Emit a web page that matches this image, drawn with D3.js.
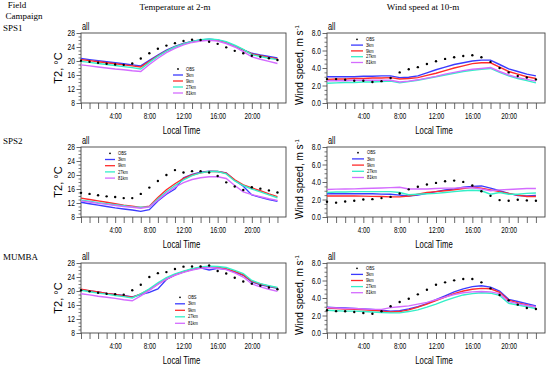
<!DOCTYPE html>
<html>
<head>
<meta charset="utf-8">
<script src="https://cdn.jsdelivr.net/npm/d3@7"></script>
<style>
  body { margin: 0; background: #fff; }
  svg { display: block; }
</style>
</head>
<body>
<svg id="chart" width="550" height="367"></svg>
<script>
// hours of the day (local time)
const hours = [0,1,2,3,4,5,6,7,8,9,10,11,12,13,14,15,16,17,18,19,20,21,22,23];
const timeTicks = [4,8,12,16,20];
const timeLabels = ["4:00","8:00","12:00","16:00","20:00"];
const t2Ticks = [8,12,16,20,24,28];
const windTicks = [0,2,4,6,8];
const campaigns = ["SPS1","SPS2","MUMBA"];
const legendNames = ["OBS","3km","9km","27km","81km"];
const modelColors = ["#3b3bff","#ff2b2b","#33efc8","#d46cff"];

// SPS1
const sps1T2Obs  = [20.1,19.8,19.5,19.2,19.0,18.9,19.3,20.7,22.2,23.5,24.4,25.1,25.7,26.1,26.0,25.5,24.9,23.9,22.9,22.2,21.5,21.2,20.8,20.3];
const sps1T2_3km = [20.7,20.4,20.1,19.8,19.5,19.2,18.9,18.6,20.2,21.7,23.1,24.2,25.0,25.6,26.0,26.2,26.0,25.3,24.3,23.2,22.2,21.7,21.3,20.9];
const sps1T2_9km = [20.4,20.1,19.8,19.5,19.2,18.9,18.6,18.3,19.9,21.5,22.9,24.0,24.9,25.5,25.9,26.1,25.9,25.3,24.3,23.2,22.0,21.5,21.0,20.6];
const sps1T2_27km = [19.9,19.6,19.3,19.0,18.7,18.4,18.1,17.7,19.6,21.3,22.8,24.0,24.9,25.6,26.1,26.3,26.1,25.5,24.5,23.3,21.8,21.3,20.8,20.4];
const sps1T2_81km = [18.9,18.6,18.3,18.0,17.7,17.5,17.2,17.0,19.0,20.8,22.4,23.6,24.6,25.3,25.7,25.9,25.7,25.0,24.0,22.7,21.2,20.5,19.9,19.3];

const sps1WsObs  = [2.73,2.73,2.65,2.54,2.54,2.4,2.5,2.85,3.5,3.85,4.1,4.45,4.77,5.04,5.23,5.38,5.46,5.23,4.7,4.0,3.5,3.08,2.92,2.7];
const sps1Ws_3km = [3.0,3.0,3.0,3.0,3.05,3.05,3.1,3.1,2.9,2.95,3.1,3.45,3.8,4.1,4.4,4.6,4.8,4.9,4.9,4.4,3.9,3.6,3.3,3.1];
const sps1Ws_9km = [2.7,2.75,2.75,2.8,2.8,2.85,2.85,2.9,2.75,2.8,2.9,3.15,3.4,3.7,4.0,4.25,4.5,4.6,4.6,4.1,3.6,3.3,3.0,2.8];
const sps1Ws_27km = [2.25,2.3,2.35,2.35,2.4,2.4,2.45,2.5,2.3,2.45,2.6,2.8,3.0,3.2,3.4,3.6,3.75,3.85,3.95,3.5,3.1,2.8,2.55,2.3];
const sps1Ws_81km = [2.55,2.55,2.55,2.6,2.6,2.6,2.6,2.6,2.4,2.5,2.65,2.85,3.05,3.3,3.5,3.7,3.85,3.95,4.05,3.6,3.2,2.9,2.7,2.5];

// SPS2
const sps2T2Obs  = [14.9,14.6,14.2,13.9,13.7,13.4,13.4,14.6,16.4,18.3,20.0,21.4,20.7,21.1,21.1,20.7,19.7,17.9,16.7,15.7,16.5,16.1,15.6,15.0];
const sps2T2_3km = [12.2,11.8,11.4,11.0,10.6,10.3,10.0,9.6,10.1,12.6,14.5,16.0,19.2,20.2,20.8,21.1,21.0,20.6,18.5,16.8,14.3,13.6,13.0,12.5];
const sps2T2_9km = [13.4,13.0,12.6,12.2,11.8,11.4,11.1,10.7,11.1,13.6,15.8,17.5,19.0,20.0,20.6,21.0,21.0,20.5,18.6,17.2,16.3,15.5,14.6,13.8];
const sps2T2_27km = [12.8,12.5,12.1,11.8,11.5,11.2,10.9,10.8,10.9,13.1,15.2,17.0,18.6,19.8,20.6,21.0,21.0,20.3,18.3,17.0,16.0,15.2,14.3,13.5];
const sps2T2_81km = [12.6,12.3,11.9,11.6,11.3,11.0,10.8,10.5,10.9,12.8,14.8,16.5,17.8,18.7,19.2,19.5,19.5,19.0,17.0,15.2,14.4,13.8,13.2,12.7];

const sps2WsObs  = [1.75,1.64,1.78,1.86,2.0,2.04,2.16,2.3,2.68,3.16,3.46,3.72,3.9,4.09,4.16,4.01,3.6,2.94,2.42,1.93,1.86,1.97,1.9,1.86];
const sps2Ws_3km = [2.65,2.65,2.65,2.65,2.65,2.65,2.62,2.6,2.5,2.4,2.5,2.7,2.9,3.1,3.2,3.4,3.5,3.55,3.3,3.0,2.7,2.45,2.4,2.45];
const sps2Ws_9km = [2.4,2.4,2.4,2.4,2.38,2.36,2.34,2.3,2.3,2.4,2.6,2.8,2.9,3.0,3.1,3.25,3.4,3.3,3.1,2.9,2.7,2.5,2.35,2.35];
const sps2Ws_27km = [2.8,2.85,2.85,2.9,2.9,2.9,2.9,2.9,2.8,2.55,2.6,2.65,2.7,2.8,2.9,3.0,3.05,3.0,2.6,2.8,2.6,2.6,2.7,2.75];
const sps2Ws_81km = [3.15,3.18,3.2,3.22,3.25,3.28,3.32,3.36,3.4,3.2,3.2,3.2,3.25,3.3,3.3,3.35,3.35,3.2,3.0,3.1,3.15,3.2,3.25,3.25];

// MUMBA
const mumbaT2Obs  = [20.2,19.9,19.5,19.2,19.1,18.95,20.2,21.8,24.0,25.1,25.4,26.3,26.95,27.0,27.0,27.3,25.7,25.0,23.8,22.7,22.1,21.5,21.0,20.5];
const mumbaT2_3km = [20.4,20.0,19.7,19.3,19.0,18.7,18.3,19.0,19.6,20.6,23.3,24.6,25.5,26.1,26.6,26.0,26.5,26.2,25.4,24.5,22.6,21.8,21.3,20.8];
const mumbaT2_9km = [20.5,20.1,19.7,19.3,19.0,18.6,18.2,19.2,20.4,22.0,23.4,24.6,25.5,26.2,26.7,26.9,26.8,26.4,25.6,24.6,22.8,22.0,21.4,20.9];
const mumbaT2_27km = [20.2,19.8,19.4,19.1,18.7,18.4,18.0,19.2,20.6,22.3,23.8,24.9,25.7,26.4,26.9,27.1,27.0,26.7,25.9,25.0,23.0,22.1,21.5,21.0];
const mumbaT2_81km = [19.2,18.9,18.5,18.2,17.9,17.5,17.2,18.6,20.2,21.9,23.4,24.5,25.3,26.0,26.5,26.7,26.5,26.1,25.2,24.0,22.0,21.2,20.5,19.9];

const mumbaWsObs  = [2.6,2.5,2.48,2.4,2.29,2.2,2.48,3.05,3.54,3.92,4.42,4.95,5.52,5.79,6.02,6.17,6.17,5.79,5.1,4.34,3.73,3.24,2.86,2.74];
const mumbaWs_3km = [2.95,2.9,2.85,2.8,2.75,2.7,2.6,2.5,2.55,2.75,3.0,3.35,3.8,4.25,4.7,5.05,5.3,5.4,5.25,4.8,3.85,3.6,3.35,3.1];
const mumbaWs_9km = [2.85,2.8,2.75,2.7,2.65,2.6,2.5,2.4,2.45,2.65,2.95,3.3,3.7,4.1,4.5,4.8,5.0,5.1,5.05,4.65,3.75,3.45,3.2,2.95];
const mumbaWs_27km = [2.6,2.55,2.5,2.5,2.45,2.4,2.35,2.3,2.3,2.45,2.65,2.95,3.3,3.7,4.05,4.35,4.5,4.6,4.55,4.3,3.4,3.2,3.0,2.8];
const mumbaWs_81km = [2.9,2.85,2.8,2.8,2.75,2.7,2.7,2.9,3.0,3.1,3.3,3.5,3.8,4.1,4.4,4.6,4.7,4.75,4.7,4.5,3.6,3.35,3.15,3.0];

const SANS = "'Liberation Sans', Arial, sans-serif";
const SERIF = "'Liberation Serif', 'Times New Roman', serif";
const SQUISH = 0.74; // the source figure is horizontally compressed

// layout of the 3x2 grid
const cols = [{x0: 81, x1: 286}, {x0: 327, x1: 545}];
const rows = [33, 147, 263];
const panelH = 70;

// legend placement inside each panel (relative to frame), [row][col]
const legendPos = [
  [{x: 92, y: 36, len: 10, step: 6.0}, {x: 24, y: 6.3, len: 12, step: 5.8}],
  [{x: 24, y: 6.3, len: 10, step: 6.2}, {x: 25, y: 5.7, len: 12, step: 6.2}],
  [{x: 94, y: 34.3, len: 10, step: 6.5}, {x: 24, y: 5.3, len: 12, step: 6.1}]
];

const panels = [
  {row: 0, col: 0, kind: "t2", obs: sps1T2Obs, models: [sps1T2_3km, sps1T2_9km, sps1T2_27km, sps1T2_81km]},
  {row: 0, col: 1, kind: "ws", obs: sps1WsObs, models: [sps1Ws_3km, sps1Ws_9km, sps1Ws_27km, sps1Ws_81km]},
  {row: 1, col: 0, kind: "t2", obs: sps2T2Obs, models: [sps2T2_3km, sps2T2_9km, sps2T2_27km, sps2T2_81km]},
  {row: 1, col: 1, kind: "ws", obs: sps2WsObs, models: [sps2Ws_3km, sps2Ws_9km, sps2Ws_27km, sps2Ws_81km]},
  {row: 2, col: 0, kind: "t2", obs: mumbaT2Obs, models: [mumbaT2_3km, mumbaT2_9km, mumbaT2_27km, mumbaT2_81km]},
  {row: 2, col: 1, kind: "ws", obs: mumbaWsObs, models: [mumbaWs_3km, mumbaWs_9km, mumbaWs_27km, mumbaWs_81km]}
];

function addText (sel, x, y, str, o) {
  o = o || {};
  const sx = o.sx === undefined ? SQUISH : o.sx;
  return sel.append("text")
    .attr("transform", "translate(" + x + "," + y + ") scale(" + sx + ",1)")
    .attr("text-anchor", o.anchor || "start")
    .style("font-family", o.family || SANS)
    .style("font-size", (o.size || 9) + "px")
    .style("font-weight", o.weight || "normal")
    .attr("fill", o.fill || "#000")
    .text(str);
}

function drawHeader (svg) {
  addText(svg, 17, 8, "Field", {family: SERIF, size: 9, anchor: "middle", sx: 1});
  addText(svg, 24, 19, "Campaign", {family: SERIF, size: 9, anchor: "middle", sx: 1});
  addText(svg, 175, 10, "Temperature at 2-m", {family: SERIF, size: 9, anchor: "middle", sx: 1});
  addText(svg, 423, 10, "Wind speed at 10-m", {family: SERIF, size: 9, anchor: "middle", sx: 1});
  const labelY = [31, 144, 260];
  campaigns.forEach(function (c, i) {
    addText(svg, 3, labelY[i], c, {family: SERIF, size: 9, sx: 1});
  });
}

function drawPanel (svg, p) {
  const c = cols[p.col];
  const y0 = rows[p.row];
  const x = d3.scaleLinear().domain([0, 24]).range([c.x0, c.x1]);
  const isT2 = p.kind === "t2";
  const y = d3.scaleLinear()
    .domain(isT2 ? [8, 28] : [0, 8])
    .range([y0 + panelH, y0]);
  const g = svg.append("g");

  // frame
  g.append("rect")
    .attr("x", c.x0).attr("y", y0)
    .attr("width", c.x1 - c.x0).attr("height", panelH)
    .attr("fill", "none").attr("stroke", "#444").attr("stroke-width", 0.9);

  // x axis: hourly ticks hanging below the frame
  const xAxis = d3.axisBottom(x)
    .tickValues(hours)
    .tickSize(6)
    .tickFormat(function (h) {
      const i = timeTicks.indexOf(h);
      return i < 0 ? "" : timeLabels[i];
    });
  const gx = g.append("g")
    .attr("transform", "translate(0," + (y0 + panelH) + ")")
    .call(xAxis);
  gx.select(".domain").remove();
  gx.selectAll(".tick line").attr("stroke", "#444").attr("stroke-width", 0.8);
  gx.selectAll(".tick text")
    .attr("y", 10)
    .attr("x", 0)
    .attr("transform", "scale(" + SQUISH + ",1)")
    .style("font-family", SANS).style("font-size", "8.5px").attr("fill", "#000");

  // y axis: major + minor ticks
  const majors = isT2 ? t2Ticks : windTicks;
  const minorStep = isT2 ? 1 : 0.5;
  const minors = d3.range(y.domain()[0], y.domain()[1] + 0.001, minorStep)
    .filter(function (v) { return majors.indexOf(v) < 0; });
  const gyMinor = g.append("g")
    .attr("transform", "translate(" + c.x0 + ",0)")
    .call(d3.axisLeft(y).tickValues(minors).tickSize(2.5).tickFormat(""));
  gyMinor.select(".domain").remove();
  gyMinor.selectAll(".tick line").attr("stroke", "#444").attr("stroke-width", 0.7);

  const gy = g.append("g")
    .attr("transform", "translate(" + c.x0 + ",0)")
    .call(d3.axisLeft(y).tickValues(majors).tickSize(4.5)
      .tickFormat(isT2 ? d3.format("d") : d3.format(".1f")));
  gy.select(".domain").remove();
  gy.selectAll(".tick line").attr("stroke", "#444").attr("stroke-width", 0.8);
  gy.selectAll(".tick text")
    .style("font-family", SANS).style("font-size", "9px").attr("fill", "#000")
    .attr("x", -6 / SQUISH)
    .attr("transform", "scale(" + SQUISH + ",1)");

  // "all"
  addText(g, c.x0 + 1, y0 - 3, "all", {size: 10});

  // y title
  const tx = p.col === 0 ? 62 : 303;
  const ty = y0 + panelH / 2 - (isT2 ? 0 : 3);
  const yt = g.append("text")
    .attr("transform", "translate(" + tx + "," + ty + ") rotate(-90)")
    .attr("text-anchor", "middle")
    .style("font-family", SANS)
    .style("font-size", isT2 ? "11px" : "10px")
    .attr("fill", "#000");
  if (isT2) {
    yt.text("T2, \u00b0C");
  } else {
    yt.append("tspan").text("Wind speed, m s");
    yt.append("tspan").attr("dy", -4).style("font-size", "6px").text("-1");
  }

  // x title
  addText(g, (c.x0 + c.x1) / 2 - 2, y0 + panelH + 31, "Local Time", {size: 10.5, anchor: "middle"});

  // model lines
  const line = d3.line()
    .x(function (d, i) { return x(hours[i]); })
    .y(function (d) { return y(d); });
  p.models.forEach(function (series, i) {
    g.append("path")
      .datum(series)
      .attr("d", line)
      .attr("fill", "none")
      .attr("stroke", modelColors[i])
      .attr("stroke-width", 1.4);
  });

  // observations
  g.selectAll("circle.obs")
    .data(p.obs)
    .enter().append("circle")
    .attr("class", "obs")
    .attr("cx", function (d, i) { return x(hours[i]); })
    .attr("cy", function (d) { return y(d); })
    .attr("r", 1.2)
    .attr("fill", "#000");

  // legend
  const L = legendPos[p.row][p.col];
  const lg = g.append("g").attr("transform", "translate(" + (c.x0 + L.x) + "," + (y0 + L.y) + ")");
  legendNames.forEach(function (name, i) {
    const ly = i * L.step;
    if (i === 0) {
      lg.append("circle").attr("cx", L.len / 2).attr("cy", ly).attr("r", 0.9).attr("fill", "#000");
    } else {
      lg.append("line")
        .attr("x1", 0).attr("x2", L.len).attr("y1", ly).attr("y2", ly)
        .attr("stroke", modelColors[i - 1]).attr("stroke-width", 1.3);
    }
    addText(lg, L.len + 3, ly + 1.6, name, {size: 4.5, sx: 0.9});
  });
}

function run () {
  const svg = d3.select("#chart");
  svg.append("rect").attr("width", 550).attr("height", 367).attr("fill", "#fff");
  drawHeader(svg);
  panels.forEach(function (p) { drawPanel(svg, p); });
}

run();
</script>
</body>
</html>
